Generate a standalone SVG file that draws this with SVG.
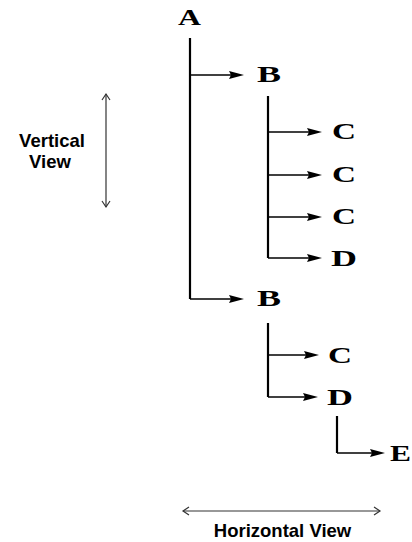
<svg xmlns="http://www.w3.org/2000/svg" width="412" height="542" viewBox="0 0 412 542">
<style>
.ltr{font-family:"Liberation Serif","Times New Roman",serif;font-weight:bold;font-size:23px;fill:#000}
.lbl{font-family:"Liberation Sans",Arial,sans-serif;font-weight:bold;font-size:18.5px;fill:#000;text-anchor:middle}
.trunk{fill:none;stroke:#000;stroke-width:2.2}
.br{fill:none;stroke:#000;stroke-width:1.6;marker-end:url(#tri)}
.view{fill:none;stroke:#333;stroke-width:1.2;marker-start:url(#chev);marker-end:url(#chev)}
</style>
<defs>
<marker id="tri" markerUnits="userSpaceOnUse" markerWidth="18" markerHeight="10" refX="7" refY="4.5" orient="auto" overflow="visible">
<path d="M0,0.5 L15,4.5 L0,8.5 L2,4.5 Z" fill="#000"/>
</marker>
<marker id="chev" markerUnits="userSpaceOnUse" markerWidth="10" markerHeight="10" refX="6" refY="4" orient="auto-start-reverse" overflow="visible">
<path d="M0,0 L6,4 L0,8" fill="none" stroke="#333" stroke-width="1.2"/>
</marker>
</defs>
<g id="connectors">
<path class="trunk" d="M190,38 V299"/>
<path class="br" d="M190,75 H236"/>
<path class="br" d="M190,299 H236"/>
<path class="trunk" d="M268,96 V258"/>
<path class="br" d="M268,132 H314"/>
<path class="br" d="M268,175 H314"/>
<path class="br" d="M268,217 H314"/>
<path class="br" d="M268,258 H314"/>
<path class="trunk" d="M268,323 V397"/>
<path class="br" d="M268,355 H311"/>
<path class="br" d="M268,397 H310"/>
<path class="trunk" d="M337,416 V453"/>
<path class="br" d="M337,453 H377"/>
</g>
<g id="node-A"><text class="ltr" x="178" y="25" textLength="23" lengthAdjust="spacingAndGlyphs">A</text></g>
<g id="node-B1"><text class="ltr" x="257" y="82" textLength="24" lengthAdjust="spacingAndGlyphs">B</text></g>
<g id="node-C1"><text class="ltr" x="332" y="139" textLength="24" lengthAdjust="spacingAndGlyphs">C</text></g>
<g id="node-C2"><text class="ltr" x="332" y="182" textLength="24" lengthAdjust="spacingAndGlyphs">C</text></g>
<g id="node-C3"><text class="ltr" x="332" y="224" textLength="24" lengthAdjust="spacingAndGlyphs">C</text></g>
<g id="node-D1"><text class="ltr" x="331" y="266" textLength="26" lengthAdjust="spacingAndGlyphs">D</text></g>
<g id="node-B2"><text class="ltr" x="257" y="306" textLength="24" lengthAdjust="spacingAndGlyphs">B</text></g>
<g id="node-C4"><text class="ltr" x="328" y="363" textLength="24" lengthAdjust="spacingAndGlyphs">C</text></g>
<g id="node-D2"><text class="ltr" x="327" y="405" textLength="26" lengthAdjust="spacingAndGlyphs">D</text></g>
<g id="node-E"><text class="ltr" x="390" y="461" textLength="21" lengthAdjust="spacingAndGlyphs">E</text></g>
<g id="vertical-view">
<path class="view" d="M106,94 V207"/>
<text class="lbl" x="52" y="147">Vertical</text>
<text class="lbl" x="50" y="168">View</text>
</g>
<g id="horizontal-view">
<path class="view" d="M183,511 H380"/>
<text class="lbl" x="282.5" y="537">Horizontal View</text>
</g>
</svg>
